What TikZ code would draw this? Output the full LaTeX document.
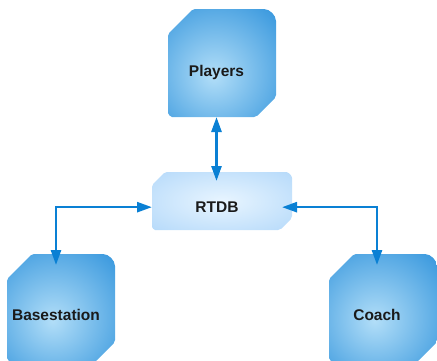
\documentclass[tikz,border=0pt]{standalone}
\usepackage{fontspec}
\setmainfont{Liberation Sans}
\usetikzlibrary{arrows.meta,calc}

\definecolor{boxin}{RGB}{178,222,248}
\definecolor{boxout}{RGB}{22,132,214}
\definecolor{dbin}{RGB}{232,245,255}
\definecolor{dbout}{RGB}{162,207,248}
\definecolor{linkblue}{RGB}{10,128,212}
\definecolor{labelgray}{RGB}{26,26,26}

\pgfdeclareradialshading{agentshade}{\pgfpoint{-4bp}{-6bp}}%
  {color(0bp)=(boxin); color(50bp)=(boxout); color(100bp)=(boxout)}
\pgfdeclareradialshading{dbshade}{\pgfpoint{0bp}{0bp}}%
  {color(0bp)=(dbin); color(50bp)=(dbout); color(100bp)=(dbout)}

% Outline with chamfered top-left and bottom-right corners,
% rounded top-right and bottom-left corners.
% #1 x0, #2 y0, #3 x1, #4 y1, #5 top-left chamfer, #6 top-right radius,
% #7 bottom-right chamfer, #8 bottom-left radius, #9 shading
\newcommand\cutbox[9]{%
  \shade[shading=#9,rounded corners=2pt]
    ({#1},{#2+#5}) -- ({#1+#5},{#2}) -- ({#3-#6},{#2})
    .. controls ({#3-0.45*#6},{#2}) and ({#3},{#2+0.45*#6}) .. ({#3},{#2+#6})
    -- ({#3},{#4-#7}) -- ({#3-#7},{#4}) -- ({#1+#8},{#4})
    .. controls ({#1+0.45*#8},{#4}) and ({#1},{#4-0.45*#8}) .. ({#1},{#4-#8})
    -- cycle;}

\begin{document}
\begin{tikzpicture}[x=1pt,y=-1pt,
  hit/.style={rectangle,inner sep=0pt,outer sep=0pt},
  lbl/.style={anchor=base,inner sep=0pt,text=labelgray,
    font=\fontsize{15.5}{18}\selectfont\bfseries},
  link/.style={draw=linkblue,line width=2.6pt,
    {Triangle[length=15pt,width=10pt]}-{Triangle[length=15pt,width=10pt]}}]
\useasboundingbox (0,0) rectangle (437,360);

% shaded bodies
\cutbox{168}{9}{276}{117}{25}{14}{20}{6}{agentshade}
\cutbox{152}{172}{292}{230}{13}{8}{12}{5}{dbshade}
\cutbox{7}{254}{115}{362}{25}{14}{20}{6}{agentshade}
\cutbox{329}{254}{437}{362}{25}{14}{20}{6}{agentshade}

% outlines used by the connectors
\node[hit,minimum width=108pt,minimum height=108pt] (players) at (222,63) {};
\node[hit,minimum width=140pt,minimum height=58pt] (rtdb) at (222,201) {};
\node[hit,minimum width=108pt,minimum height=108pt] (base) at (61,308) {};
\node[hit,minimum width=108pt,minimum height=108pt] (coach) at (383,308) {};

% labels
\node[lbl] (playersT) at (216.5,76) {Players};
\node[lbl] (rtdbT) at (217,212.5) {RTDB};
\node[lbl] (baseT) at (56,320) {Basestation};
\node[lbl] (coachT) at (377,320) {Coach};

% connectors
\draw[link,shorten >=-9pt] (players.south -| playersT.base) -- (rtdb.north -| playersT.base);
\draw[link,shorten >=-11pt] (rtdb.west |- rtdbT.center) -| (base.north -| baseT.base);
\draw[link,shorten <=-10pt,shorten >=-11pt] (rtdb.east |- rtdbT.center) -| (coach.north -| coachT.base);
\end{tikzpicture}
\end{document}
